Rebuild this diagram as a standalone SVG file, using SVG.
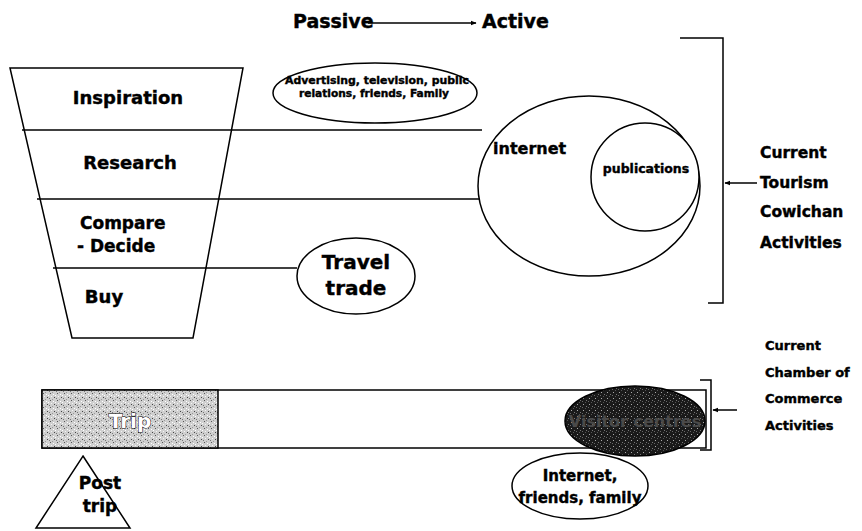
<svg xmlns="http://www.w3.org/2000/svg" width="862" height="531" viewBox="0 0 862 531">
<style>
.t{font-family:"DejaVu Sans","Liberation Sans",sans-serif;font-weight:bold;fill:#000;stroke:#000;stroke-width:0.4}
.s{fill:none;stroke:#000;stroke-width:1.5}
.w{fill:#fff;stroke:#000;stroke-width:1.5}
.c{text-anchor:middle}
</style>
<defs>
<marker id="ah" viewBox="0 0 10 10" refX="9" refY="5" markerWidth="6" markerHeight="6" orient="auto" markerUnits="userSpaceOnUse">
<path d="M0,1 L10,5 L0,9 z" fill="#000"/>
</marker>
<pattern id="stip" width="7" height="7" patternUnits="userSpaceOnUse">
<rect width="7" height="7" fill="#cfcfcf"/>
<rect x="1" y="1" width="1" height="1" fill="#555"/>
<rect x="4" y="2" width="1" height="1" fill="#fff"/>
<rect x="5" y="5" width="1" height="1" fill="#444"/>
<rect x="2" y="4" width="1" height="1" fill="#f4f4f4"/>
<rect x="0" y="6" width="1" height="1" fill="#777"/>
<rect x="3" y="0" width="1" height="1" fill="#999"/>
<rect x="6" y="3" width="1" height="1" fill="#fff"/>
</pattern>
<pattern id="dark" width="6" height="6" patternUnits="userSpaceOnUse">
<rect width="6" height="6" fill="#1a1a1a"/>
<rect x="1" y="2" width="1" height="1" fill="#aaa"/>
<rect x="4" y="4" width="1" height="1" fill="#777"/>
<rect x="3" y="0" width="1" height="1" fill="#555"/>
<rect x="0" y="5" width="1" height="1" fill="#666"/>
</pattern>
</defs>

<g id="funnel">
<polygon class="s" points="10,68 243,68 193,338 72,338"/>
<text class="t c" x="128" y="104" font-size="18">Inspiration</text>
<text class="t c" x="130" y="169" font-size="18">Research</text>
<text class="t" x="80" y="229" font-size="17">Compare</text>
<text class="t" x="77" y="252" font-size="17">- Decide</text>
<text class="t c" x="104" y="303" font-size="18">Buy</text>
</g>

<g id="connectors">
<line class="s" x1="368" y1="23" x2="476" y2="23" marker-end="url(#ah)"/>
<line class="s" x1="22" y1="130" x2="482" y2="130"/>
<line class="s" x1="37" y1="199" x2="480" y2="199"/>
<line class="s" x1="53" y1="268" x2="297" y2="268"/>
<polyline class="s" points="680,38 723,38 723,303 708,303"/>
<line class="s" x1="757" y1="183" x2="725" y2="183" marker-end="url(#ah)"/>
<polyline class="s" points="700,380 711,380 711,450 700,450"/>
<line class="s" x1="737" y1="410" x2="713" y2="410" marker-end="url(#ah)"/>
</g>

<g id="header">
<text class="t" x="293" y="28" font-size="19">Passive</text>
<text class="t" x="482" y="28" font-size="19">Active</text>
</g>

<g id="advertising">
<ellipse class="w" cx="375" cy="93" rx="102" ry="30"/>
<text class="t c" x="377" y="84" font-size="10.5" textLength="184" lengthAdjust="spacingAndGlyphs">Advertising, television, public</text>
<text class="t c" x="374" y="97" font-size="10.5" textLength="150" lengthAdjust="spacingAndGlyphs">relations, friends, Family</text>
</g>

<g id="internet">
<ellipse class="w" cx="589" cy="186" rx="111" ry="90"/>
<text class="t" x="493" y="154" font-size="16">internet</text>
</g>

<g id="publications">
<ellipse class="w" cx="645" cy="177" rx="54" ry="54"/>
<text class="t c" x="646" y="173" font-size="12.5">publications</text>
</g>

<g id="travel-trade">
<ellipse class="w" cx="356" cy="276" rx="59" ry="38"/>
<text class="t c" x="356" y="269" font-size="20">Travel</text>
<text class="t c" x="356" y="295" font-size="20">trade</text>
</g>

<g id="tourism-label">
<text class="t" x="760" y="158" font-size="15.5">Current</text>
<text class="t" x="760" y="188" font-size="15.5">Tourism</text>
<text class="t" x="760" y="217" font-size="15.5">Cowichan</text>
<text class="t" x="760" y="248" font-size="15.5">Activities</text>
</g>

<g id="trip-bar">
<rect class="s" x="42" y="390" width="664" height="58"/>
<rect x="42" y="390" width="176" height="58" fill="url(#stip)" stroke="#000" stroke-width="1.5"/>
<text class="c" x="130" y="428" font-size="20" font-family="DejaVu Sans, sans-serif" font-weight="bold" fill="#fff" stroke="#000" stroke-width="1" paint-order="stroke">Trip</text>
</g>

<g id="visitor-centres">
<ellipse cx="635" cy="421" rx="70" ry="35" fill="url(#dark)" stroke="#000" stroke-width="1.5"/>
<text class="c" x="635" y="427" font-size="16" font-family="DejaVu Sans, sans-serif" font-weight="bold" fill="#4a4a4a">Visitor centres</text>
</g>

<g id="chamber-label">
<text class="t" x="765" y="350" font-size="13">Current</text>
<text class="t" x="765" y="377" font-size="13">Chamber of</text>
<text class="t" x="765" y="403" font-size="13">Commerce</text>
<text class="t" x="765" y="430" font-size="13">Activities</text>
</g>

<g id="post-trip">
<polygon class="w" points="83,456 130,528 36,528"/>
<text class="t c" x="100" y="489" font-size="17">Post</text>
<text class="t c" x="100" y="512" font-size="17">trip</text>
</g>

<g id="wom">
<ellipse class="w" cx="580" cy="486" rx="68" ry="33"/>
<text class="t c" x="580" y="481" font-size="15">Internet,</text>
<text class="t c" x="580" y="503" font-size="15">friends, family</text>
</g>
</svg>
